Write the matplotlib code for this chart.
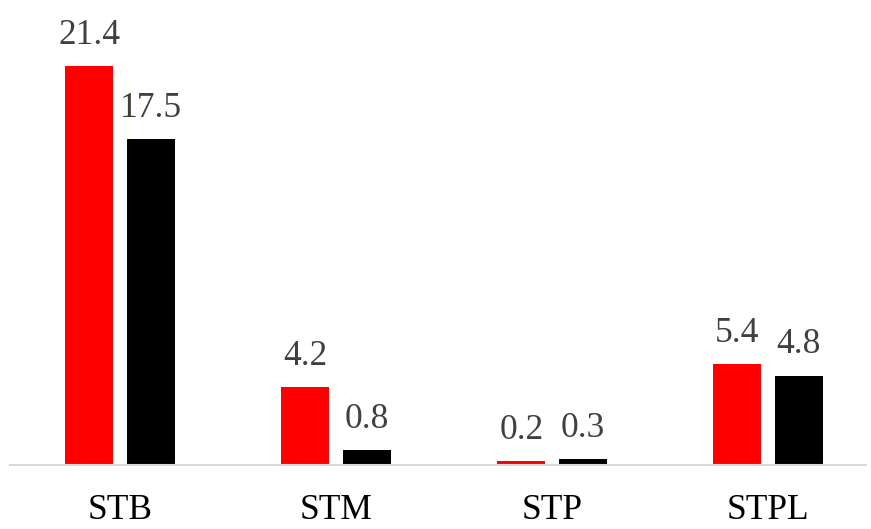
import numpy as np
import matplotlib
matplotlib.use('Agg')
import matplotlib.pyplot as plt

categories = ['STB', 'STM', 'STP', 'STPL']
series_a = [21.4, 4.2, 0.2, 5.4]
series_b = [17.5, 0.8, 0.3, 4.8]

plt.rcParams['font.family'] = ['Liberation Serif', 'DejaVu Serif']

fig = plt.figure(figsize=(8.71, 5.29), dpi=100)
ax = fig.add_axes([10 / 871, 64 / 529, 856 / 871, 447 / 529])

x = np.arange(len(categories))
w = 0.222
off = 0.142
bars_a = ax.bar(x - off, series_a, w, color='#ff0000')
bars_b = ax.bar(x + off, series_b, w, color='#000000')

for bars, vals in ((bars_a, series_a), (bars_b, series_b)):
    for b, v in zip(bars, vals):
        ax.annotate(f'{v:.1f}', (b.get_x() + b.get_width() / 2, b.get_height()),
                    xytext=(0, 16), textcoords='offset points',
                    ha='center', va='baseline', fontsize=25.5, color='#404040')

ax.set_xlim(-0.509, 3.454)
ax.set_ylim(0, 24)
ax.set_xticks(x)
ax.set_xticklabels(categories, fontsize=25.5, color='black')
ax.tick_params(axis='x', length=0, pad=21)
ax.set_yticks([])
for s in ('left', 'right', 'top'):
    ax.spines[s].set_visible(False)
ax.spines['bottom'].set_color('#d9d9d9')
ax.spines['bottom'].set_linewidth(1.5)

fig.savefig('out.png', dpi=100)
